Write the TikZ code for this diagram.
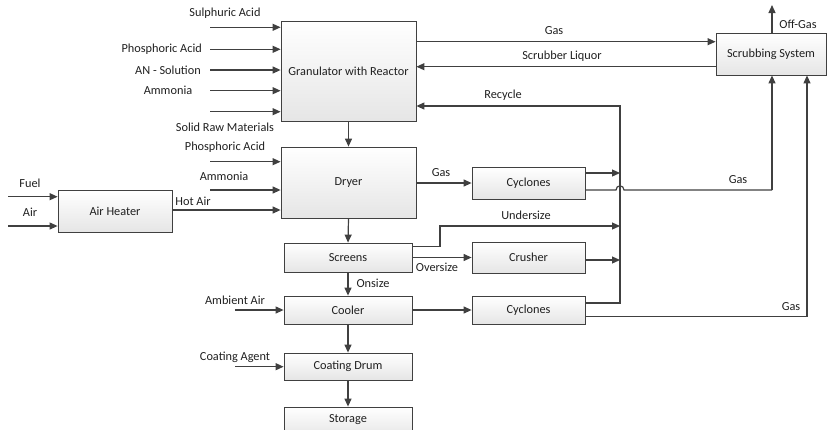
\documentclass[tikz,border=0pt]{standalone}
\usepackage{fontspec}
\setmainfont{Carlito}
\usetikzlibrary{arrows.meta,shadows}
\definecolor{ln}{HTML}{404040}
\definecolor{tx}{HTML}{202020}
\begin{document}
\begin{tikzpicture}[x=1pt,y=-1pt,
  font=\fontsize{12.3}{14}\selectfont, text=tx,
  box/.style={draw=ln, line width=0.8pt, top color=white, bottom color=black!10,
    drop shadow={shadow xshift=1.2pt, shadow yshift=-1.2pt, opacity=0.25, fill=black},
    inner sep=0pt, anchor=center},
  arr/.style={draw=ln, line width=1.2pt, -{Triangle[length=8pt,width=7pt]}},
  ln/.style={draw=ln, line width=1.2pt},
  lbl/.style={inner sep=0pt, anchor=center}]
\useasboundingbox (0,0) rectangle (827,429);
\clip (0,0) rectangle (827,429);
% boxes
\node[box, minimum width=135pt, minimum height=100pt] (gran) at (348.5,71) {Granulator with Reactor};
\node[box, minimum width=110pt, minimum height=42pt] (scrub) at (771,54) {Scrubbing System};
\node[box, minimum width=135pt, minimum height=71pt] (dryer) at (348.5,182.5) {Dryer};
\node[box, minimum width=114pt, minimum height=42pt] (heater) at (115,211) {Air Heater};
\node[box, minimum width=128pt, minimum height=29pt] (screens) at (348,257.5) {Screens};
\node[box, minimum width=113pt, minimum height=32pt] (cyc1) at (528.5,183) {Cyclones};
\node[box, minimum width=113pt, minimum height=31pt] (crusher) at (528.5,257.5) {Crusher};
\node[box, minimum width=128pt, minimum height=28pt] (cooler) at (348,310) {Cooler};
\node[box, minimum width=113pt, minimum height=28pt] (cyc2) at (528.5,310) {Cyclones};
\node[box, minimum width=128pt, minimum height=27pt] (coat) at (348,366.5) {Coating Drum};
\node[box, minimum width=128pt, minimum height=30pt] (store) at (348,422) {};
\node[lbl] at (348,420) {Storage};
% free ends
\coordinate (sa) at (210,27.3);
\coordinate (pa) at (210,49.3);
\coordinate (an) at (210,70);
\coordinate (am) at (210,90.7);
\coordinate (sr) at (210,111.7);
\coordinate (pa2) at (210,161.7);
\coordinate (am2) at (210,190);
\coordinate (fuel) at (8,196.7);
\coordinate (air) at (8,226);
\coordinate (amb) at (235,310);
\coordinate (ca) at (235,366.7);
\coordinate (og) at (772,5);
\coordinate (rc) at (620,106);
\coordinate (gx1) at (772,190);
\coordinate (gx2) at (807,316.7);
% inputs
\draw[arr] (sa) -- (sa -| gran.west);
\draw[arr] (pa) -- (pa -| gran.west);
\draw[arr] (an) -- (an -| gran.west);
\draw[arr] (am) -- (am -| gran.west);
\draw[arr] (sr) -- (sr -| gran.west);
\draw[arr] (pa2) -- (pa2 -| dryer.west);
\draw[arr] (am2) -- (am2 -| dryer.west);
\draw[arr] (fuel) -- (fuel -| heater.west);
\draw[arr] (air) -- (air -| heater.west);
\draw[arr] (heater.east |- 0,210) -- (dryer.west |- 0,210);
\draw[arr] (amb) -- (cooler.west);
\draw[arr] (ca) -- (coat.west |- ca);
% main vertical flow
\draw[arr] (gran.south) -- (dryer.north);
\draw[arr] (dryer.south) -- (screens.north);
\draw[arr] (screens.south) -- (cooler.north);
\draw[arr] (cooler.south) -- (coat.north);
\draw[arr] (coat.south) -- (store.north);
% granulator <-> scrubber
\draw[arr] (gran.east |- 0,41.7) -- (scrub.west |- 0,41.7);
\draw[arr] (scrub.west |- 0,66.7) -- (gran.east |- 0,66.7);
\draw[arr] (scrub.north -| og) -- (og);
% dryer gas
\draw[arr] (dryer.east |- cyc1) -- (cyc1.west);
\draw[arr] (cyc1.east |- 0,173) -- (rc |- 0,173);
\draw[ln] (cyc1.east |- 0,190) -- (616,190) .. controls (616,184.5) and (624,184.5) .. (624,190) -- (gx1);
\draw[arr] (gx1) -- (gx1 |- scrub.south);
% screens
\draw[arr] (screens.east |- 0,246.7) -- (440,246.7) -- (440,226) -- (rc |- 0,226);
\draw[arr] (screens.east |- crusher) -- (crusher.west);
\draw[arr] (crusher.east |- 0,260) -- (rc |- 0,260);
% cooler
\draw[arr] (cooler.east) -- (cyc2.west);
\draw[arr] (cyc2.east |- 0,303) -- (rc |- 0,303) -- (rc) -- (gran.east |- rc);
\draw[ln] (cyc2.east |- gx2) -- (gx2);
\draw[arr] (gx2) -- (gx2 |- scrub.south);
% labels
\node[lbl] at (225,13) {Sulphuric Acid};
\node[lbl, anchor=east] at (202,49.3) {Phosphoric Acid};
\node[lbl, anchor=east] at (201,70) {AN - Solution};
\node[lbl] at (168,90.7) {Ammonia};
\node[lbl] at (225,127) {Solid Raw Materials};
\node[lbl] at (225,147) {Phosphoric Acid};
\node[lbl] at (224,176) {Ammonia};
\node[lbl] at (193,201) {Hot Air};
\node[lbl] at (30,183) {Fuel};
\node[lbl] at (30,212) {Air};
\node[lbl] at (441,173) {Gas};
\node[lbl] at (526,215) {Undersize};
\node[lbl] at (437,267) {Oversize};
\node[lbl] at (373,283) {Onsize};
\node[lbl] at (235,300) {Ambient Air};
\node[lbl] at (235,357) {Coating Agent};
\node[lbl] at (738,180) {Gas};
\node[lbl] at (791,307) {Gas};
\node[lbl] at (798,24) {Off-Gas};
\node[lbl] at (554,31) {Gas};
\node[lbl] at (562,56) {Scrubber Liquor};
\node[lbl] at (503,95) {Recycle};
\end{tikzpicture}
\end{document}
